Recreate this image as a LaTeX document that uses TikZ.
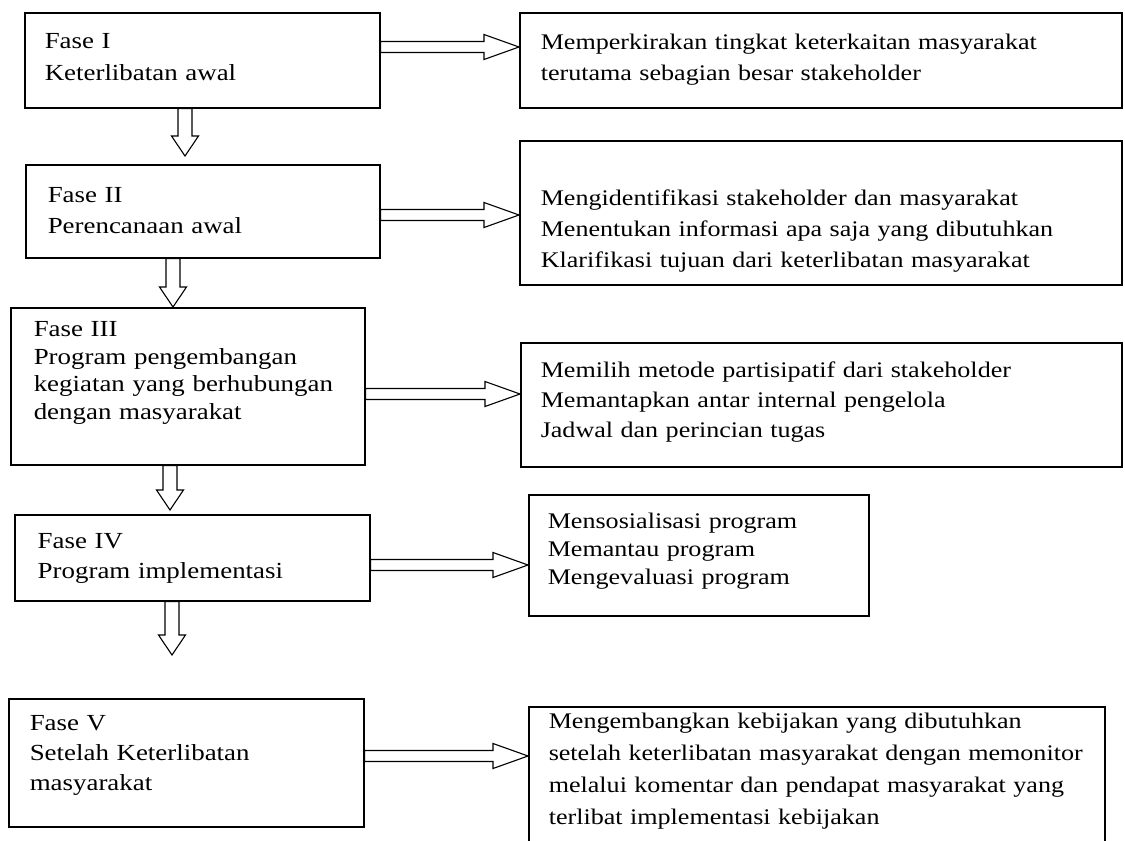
\documentclass[tikz,border=0pt]{standalone}
\usepackage{fontspec}
\setmainfont{Liberation Serif}[FakeStretch=1.17]
\usetikzlibrary{calc}

\tikzset{
  fase/.style={draw, line width=1.5pt, anchor=north west, inner sep=0pt, align=left},
  leftfont/.style={font=\fontsize{23}{#1}\selectfont},
  rightfont/.style={font=\fontsize{22.3}{#1}\selectfont},
  indent/.style={execute at begin node={\leftskip=#1}},
  blockarrow/.style={draw, line width=1.1pt, line join=miter},
}

% hollow arrow to the right, from box #1 to box #2 at height #3
\newcommand{\faseright}[3]{%
  \coordinate (s) at (#1.east |- 0,#3);
  \coordinate (e) at (#2.west |- 0,#3);
  \draw[blockarrow] ($(s)+(0,-5.5)$) -- ($(e)+(-35,-5.5)$) -- ($(e)+(-35,-12.5)$) -- (e)
    -- ($(e)+(-35,12.5)$) -- ($(e)+(-35,5.5)$) -- ($(s)+(0,5.5)$) -- cycle;
}
% hollow arrow down, from box #1 towards box #2 at x #3, stopping #4 above it
\newcommand{\fasedown}[4]{%
  \coordinate (s) at (#1.south -| #3,0);
  \coordinate (e) at ($(#2.north -| #3,0)+(0,-#4)$);
  \draw[blockarrow] ($(s)+(-7,0)$) -- ($(e)+(-7,-20)$) -- ($(e)+(-13.5,-20)$) -- (e)
    -- ($(e)+(13.5,-20)$) -- ($(e)+(7,-20)$) -- ($(s)+(7,0)$) -- cycle;
}

\begin{document}
\begin{tikzpicture}[x=1pt, y=-1pt]
    \useasboundingbox (0,0) rectangle (1125,841);
    \clip (0,0) rectangle (1125,841);

    % phases
    \node[fase, leftfont=32, indent=20pt, text width=355pt, text height=36pt, text depth=59pt] (f1) at (24,12) {Fase I\\Keterlibatan awal};
    \node[fase, leftfont=31, indent=22pt, text width=354pt, text height=38pt, text depth=55pt] (f2) at (25,164) {Fase II\\Perencanaan awal};
    \node[fase, leftfont=27.5, indent=23pt, text width=354pt, text height=29pt, text depth=128pt] (f3) at (10,307) {Fase III\\Program pengembangan\\kegiatan yang berhubungan\\dengan masyarakat};
    \node[fase, leftfont=30, indent=23pt, text width=355pt, text height=34pt, text depth=52pt] (f4) at (14,514) {Fase IV\\Program implementasi};
    \node[fase, leftfont=30, indent=21pt, text width=355pt, text height=32pt, text depth=96pt] (f5) at (8,698) {Fase V\\Setelah Keterlibatan\\masyarakat};

    % activities
    \node[fase, rightfont=31, indent=21pt, text width=602pt, text height=37pt, text depth=58pt] (r1) at (519,12) {Memperkirakan tingkat keterkaitan masyarakat\\terutama sebagian besar stakeholder};
    \node[fase, rightfont=31, indent=21pt, text width=602pt, text height=65pt, text depth=79pt] (r2) at (519,140) {Mengidentifikasi stakeholder dan masyarakat\\Menentukan informasi apa saja yang dibutuhkan\\Klarifikasi tujuan dari keterlibatan masyarakat};
    \node[fase, rightfont=30, indent=20pt, text width=601pt, text height=35pt, text depth=89pt] (r3) at (520,342) {Memilih metode partisipatif dari stakeholder\\Memantapkan antar internal pengelola\\Jadwal dan perincian tugas};
    \node[fase, rightfont=28, indent=19pt, text width=340pt, text height=34pt, text depth=87pt] (r4) at (528,494) {Mensosialisasi program\\Memantau program\\Mengevaluasi program};
    \node[fase, rightfont=32, indent=20pt, text width=576pt, text height=22pt, text depth=150pt] (r5) at (528,706) {Mengembangkan kebijakan yang dibutuhkan\\setelah keterlibatan masyarakat dengan memonitor\\melalui komentar dan pendapat masyarakat yang\\terlibat implementasi kebijakan};

    % arrows
    \faseright{f1}{r1}{47}
    \faseright{f2}{r2}{215}
    \faseright{f3}{r3}{394}
    \faseright{f4}{r4}{565}
    \faseright{f5}{r5}{756}

    \fasedown{f1}{f2}{185}{8}
    \fasedown{f2}{f3}{173}{0}
    \fasedown{f3}{f4}{170}{4}
    \fasedown{f4}{f5}{172}{43}
\end{tikzpicture}
\end{document}
